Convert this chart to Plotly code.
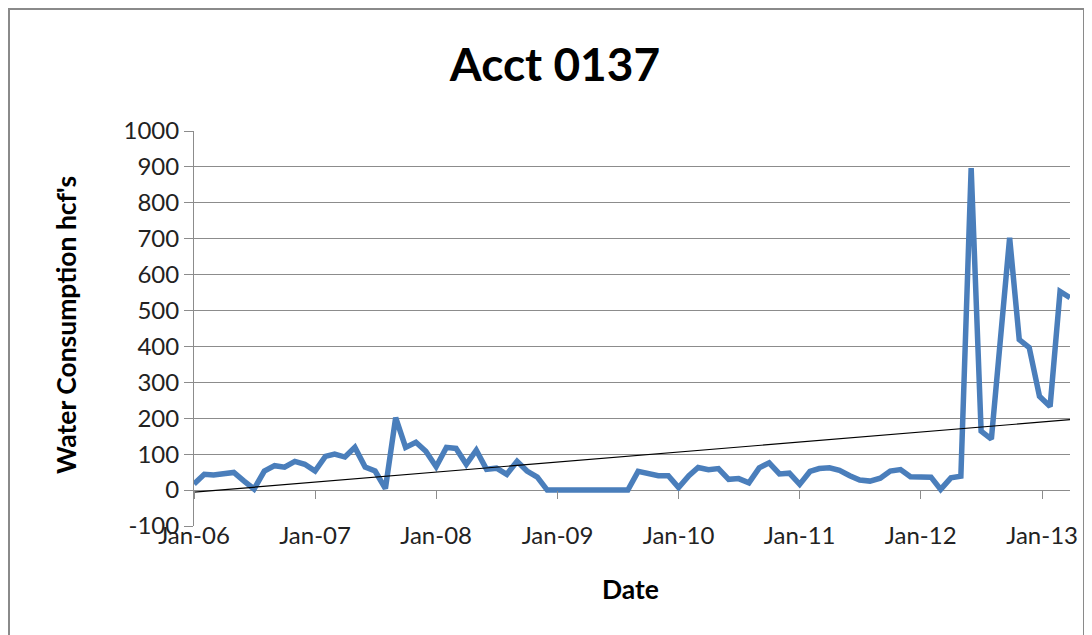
import numpy as np
import pandas as pd
import plotly.graph_objects as go

# ---- data ----
monthly_start = "2006-01-01"
monthly_values = [
    # 2006
    17, 44, 42, 44, 49, 25, 3, 53, 68, 64, 80, 72,
    # 2007
    53, 94, 100, 92, 119, 64, 53, 4, 202, 119, 133, 108,
    # 2008
    65, 119, 116, 72, 111, 58, 61, 44, 80, 53, 36, 0,
    # 2009
    0, 0, 0, 0, 0, 0, 0, 0, 52, 47, 40, 40,
    # 2010
    7, 40, 63, 57, 60, 30, 32, 20, 62, 76, 45, 47,
    # 2011
    16, 52, 60, 62, 55, 40, 28, 25, 33, 53, 57, 37,
    # 2012 (Jan-Aug)
    36, 36, 2, 34, 39, 897, 164, 142,
]
late_dates = ["2012-09-25", "2012-10-24", "2012-11-23", "2012-12-24",
              "2013-01-25", "2013-02-24", "2013-03-26"]
late_values = [703, 419, 397, 261, 233, 553, 536]

tick_dates = ["2006-01-01", "2007-01-01", "2008-01-01", "2009-01-01",
              "2010-01-01", "2011-01-01", "2012-01-01", "2013-01-01"]
tick_labels = ["Jan-06", "Jan-07", "Jan-08", "Jan-09",
               "Jan-10", "Jan-11", "Jan-12", "Jan-13"]
y_ticks = list(range(-100, 1001, 100))
y_tick_labels = [str(v) for v in y_ticks]

title_text = "Acct 0137"
y_title = "Water Consumption hcf's"
x_title = "Date"

# ---- assemble ----
dates = list(pd.date_range(monthly_start, periods=len(monthly_values), freq="MS")) + \
        list(pd.to_datetime(late_dates))
values = monthly_values + late_values
dates = pd.to_datetime(dates)

# linear trendline (as Excel does on date serials)
days = (dates - dates[0]).days.values.astype(float)
slope, intercept = np.polyfit(days, np.array(values, dtype=float), 1)
trend_x = [dates[0], dates[-1]]
trend_y = [intercept, intercept + slope * days[-1]]

W, H = 1092, 635
OFF = 8  # page body margin offsets the figure on screen
# target on-screen plot box: x 194..1070, y 131..526
L, T = 194 - OFF, 131 - OFF
R = W - (1070 - OFF)
B = H - (526 - OFF)
pw, ph = W - L - R, H - T - B


def px_x(sx):  # on-screen x -> paper
    return (sx - OFF - L) / pw


def px_y(sy):  # on-screen y -> paper
    return (H - B - (sy - OFF)) / ph


FONT = "Lato"
GRID = "#8c8c8c"

fig = go.Figure()
fig.add_trace(go.Scatter(x=dates, y=values, mode="lines",
                         line=dict(color="#4A7EBB", width=5.5),
                         showlegend=False, hoverinfo="x+y"))
fig.add_trace(go.Scatter(x=trend_x, y=trend_y, mode="lines", xaxis="x2",
                         line=dict(color="#000000", width=1.2),
                         showlegend=False, hoverinfo="skip"))

fig.update_layout(
    width=W, height=H,
    margin=dict(l=L, r=R, t=T, b=B, pad=0),
    paper_bgcolor="white", plot_bgcolor="white",
    font=dict(family=FONT, color="#222222"),
    xaxis=dict(range=[dates[0], dates[-1]], tickvals=tick_dates, ticktext=tick_labels,
               anchor="free", position=7 / ph,
               ticks="", showgrid=False, zeroline=False, showline=False,
               tickfont=dict(size=24, color="#222222")),
    xaxis2=dict(overlaying="x", matches="x", anchor="free", position=100 / 1100,
                tickvals=tick_dates, ticks="outside", ticklen=8, tickcolor=GRID,
                tickwidth=1, showticklabels=False, showgrid=False,
                zeroline=False, showline=False),
    yaxis=dict(range=[-100, 1000], tickvals=y_ticks, ticktext=y_tick_labels,
               ticks="outside", ticklen=9,
               tickcolor=GRID, showline=True, linecolor=GRID, linewidth=1,
               showgrid=True, gridcolor=GRID, gridwidth=1, zeroline=False,
               tickfont=dict(size=24, color="#222222")),
    title=dict(text="<b>" + title_text + "</b>", x=(555 - OFF) / W, xref="container",
               xanchor="center", y=1 - (65 - OFF) / H, yref="container", yanchor="middle",
               font=dict(size=46, family=FONT, color="#000000")),
    annotations=[
        dict(text="<b>" + y_title + "</b>", xref="paper", yref="paper",
             x=px_x(66), y=px_y(325), textangle=-90,
             showarrow=False, xanchor="center", yanchor="middle",
             font=dict(size=26.5, family=FONT, color="#000000")),
        dict(text="<b>" + x_title + "</b>", xref="paper", yref="paper",
             x=px_x(630), y=px_y(589),
             showarrow=False, xanchor="center", yanchor="middle",
             font=dict(size=26.5, family=FONT, color="#000000")),
    ],
    shapes=[dict(type="rect", xref="paper", yref="paper",
                 x0=px_x(9), x1=px_x(1084),
                 y0=px_y(680), y1=px_y(9),
                 line=dict(color="#8a8a8a", width=2), fillcolor="rgba(0,0,0,0)",
                 layer="below")],
)

fig.write_html("out.html")
